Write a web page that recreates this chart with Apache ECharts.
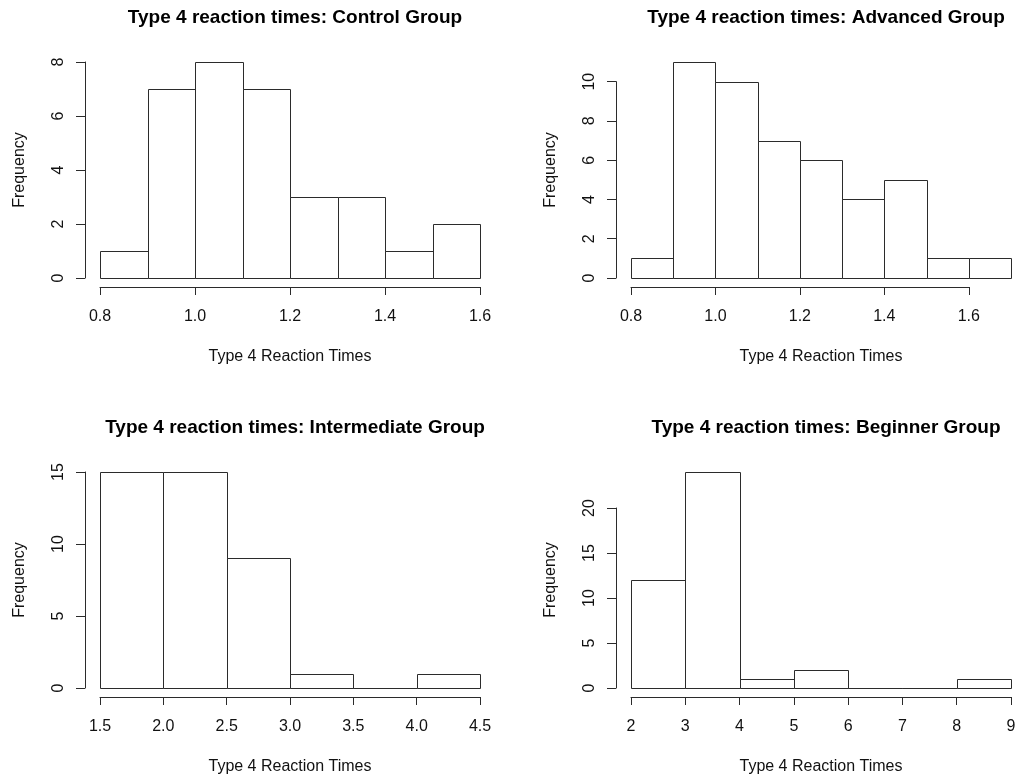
<!DOCTYPE html>
<html>
<head>
<meta charset="utf-8">
<title>Type 4 reaction times</title>
<script src="https://cdn.jsdelivr.net/npm/echarts@6/dist/echarts.min.js"></script>
<style>
html, body { margin: 0; padding: 0; background: #fff; }
#main { width: 1021px; height: 778px; }
</style>
</head>
<body>
<div id="main"></div>
<script>
//Control group
var controlBreaks = [0.8, 0.9, 1.0, 1.1, 1.2, 1.3, 1.4, 1.5, 1.6];
var controlCounts = [1, 7, 8, 7, 3, 3, 1, 2];
var controlXTicks = [0.8, 1.0, 1.2, 1.4, 1.6];
var controlYTicks = [0, 2, 4, 6, 8];

//Advanced group
var advancedBreaks = [0.8, 0.9, 1.0, 1.1, 1.2, 1.3, 1.4, 1.5, 1.6, 1.7];
var advancedCounts = [1, 11, 10, 7, 6, 4, 5, 1, 1];
var advancedXTicks = [0.8, 1.0, 1.2, 1.4, 1.6];
var advancedYTicks = [0, 2, 4, 6, 8, 10];

//Intermediate group
var intermediateBreaks = [1.5, 2.0, 2.5, 3.0, 3.5, 4.0, 4.5];
var intermediateCounts = [15, 15, 9, 1, 0, 1];
var intermediateXTicks = [1.5, 2.0, 2.5, 3.0, 3.5, 4.0, 4.5];
var intermediateYTicks = [0, 5, 10, 15];

//Beginner group
var beginnerBreaks = [2, 3, 4, 5, 6, 7, 8, 9];
var beginnerCounts = [12, 24, 1, 2, 0, 0, 1];
var beginnerXTicks = [2, 3, 4, 5, 6, 7, 8, 9];
var beginnerYTicks = [0, 5, 10, 15, 20];

var panelTitles = [
    'Type 4 reaction times: Control Group',
    'Type 4 reaction times: Advanced Group',
    'Type 4 reaction times: Intermediate Group',
    'Type 4 reaction times: Beginner Group'
];
var xName = 'Type 4 Reaction Times';
var yName = 'Frequency';

var FONT = '"Liberation Sans", Arial, sans-serif';
var INK = '#2b2b2b';
var TXT = '#111';

var HistChart;

$ready(function () {
    //初始化图表
    HistChart = echarts.init(document.getElementById('main'));
    HistChart.setOption(BuildOption());
});

function $ready(fn) {
    if (document.readyState !== 'loading') fn();
    else document.addEventListener('DOMContentLoaded', fn);
}

function round3(v) {
    return Math.round(v * 1000) / 1000;
}

//one rectangle per bin, from the value scales
function renderBin(params, api) {
    var p0 = api.coord([api.value(0), api.value(2)]);
    var p1 = api.coord([api.value(1), 0]);
    var x0 = Math.round(p0[0]), y0 = Math.round(p0[1]);
    var x1 = Math.round(p1[0]), y1 = Math.round(p1[1]);
    return {
        type: 'rect',
        shape: { x: x0 + 0.5, y: y0 + 0.5, width: x1 - x0, height: y1 - y0 },
        style: { fill: '#fff', stroke: INK, lineWidth: 1 }
    };
}

function BuildOption() {
    var panels = [
        { breaks: controlBreaks, counts: controlCounts, xt: controlXTicks, yt: controlYTicks, dec: 1, left: 100, top: 62 },
        { breaks: advancedBreaks, counts: advancedCounts, xt: advancedXTicks, yt: advancedYTicks, dec: 1, left: 631, top: 62 },
        { breaks: intermediateBreaks, counts: intermediateCounts, xt: intermediateXTicks, yt: intermediateYTicks, dec: 1, left: 100, top: 472 },
        { breaks: beginnerBreaks, counts: beginnerCounts, xt: beginnerXTicks, yt: beginnerYTicks, dec: 0, left: 631, top: 472 }
    ];
    var W = 380, H = 216;

    var option = {
        backgroundColor: '#fff',
        animation: false,
        title: [],
        grid: [],
        xAxis: [],
        yAxis: [],
        series: []
    };

    var hidden = { show: false };

    panels.forEach(function (p, i) {
        var xt = p.xt, yt = p.yt;
        var ext0 = Math.min(p.breaks[0], xt[0]);
        var ext1 = Math.max(p.breaks[p.breaks.length - 1], xt[xt.length - 1]);
        var ymax = Math.max(Math.max.apply(null, p.counts), yt[yt.length - 1]);
        var g = option.grid.length;

        //plot region (bars + axis titles)
        option.grid.push({ left: p.left, top: p.top, width: W, height: H, containLabel: false });
        option.xAxis.push({
            type: 'value', gridIndex: g, min: ext0, max: ext1,
            axisLine: hidden, axisTick: hidden, axisLabel: hidden, splitLine: hidden,
            name: xName, nameLocation: 'middle', nameGap: 71,
            nameTextStyle: { fontFamily: FONT, fontSize: 16, color: TXT }
        });
        option.yAxis.push({
            type: 'value', gridIndex: g, min: 0, max: ymax,
            axisLine: hidden, axisTick: hidden, axisLabel: hidden, splitLine: hidden,
            name: yName, nameLocation: 'middle', nameGap: 72, nameRotate: 90,
            nameTextStyle: { fontFamily: FONT, fontSize: 16, color: TXT }
        });

        //x axis drawn only over the tick range
        var x0 = xt[0], x1 = xt[xt.length - 1];
        option.grid.push({
            left: p.left + (x0 - ext0) / (ext1 - ext0) * W,
            width: (x1 - x0) / (ext1 - ext0) * W,
            top: p.top, height: H
        });
        option.xAxis.push({
            type: 'value', gridIndex: g + 1, min: x0, max: x1,
            interval: round3(xt[1] - xt[0]), offset: 9,
            axisLine: { show: true, onZero: false, lineStyle: { color: INK, width: 1 } },
            axisTick: { show: true, length: 8, lineStyle: { color: INK, width: 1 } },
            axisLabel: {
                margin: 22, fontFamily: FONT, fontSize: 16, color: TXT,
                showMinLabel: true, showMaxLabel: true, hideOverlap: false,
                formatter: function (v) { return Number(v).toFixed(p.dec); }
            },
            splitLine: hidden
        });
        option.yAxis.push({ type: 'value', gridIndex: g + 1, show: false, min: 0, max: ymax });

        //y axis drawn only over the tick range
        var yTop = yt[yt.length - 1];
        option.grid.push({
            left: p.left, width: W,
            top: p.top + (ymax - yTop) / ymax * H,
            height: yTop / ymax * H
        });
        option.xAxis.push({ type: 'value', gridIndex: g + 2, show: false, min: ext0, max: ext1 });
        option.yAxis.push({
            type: 'value', gridIndex: g + 2, min: 0, max: yTop,
            interval: yt[1] - yt[0], offset: 15,
            axisLine: { show: true, onZero: false, lineStyle: { color: INK, width: 1 } },
            axisTick: { show: true, length: 9, lineStyle: { color: INK, width: 1 } },
            axisLabel: {
                margin: 18, rotate: 90, fontFamily: FONT, fontSize: 16, color: TXT,
                showMinLabel: true, showMaxLabel: true, hideOverlap: false
            },
            splitLine: hidden
        });

        //histogram bins
        var data = [];
        for (var k = 0; k < p.counts.length; k++) {
            data.push([p.breaks[k], p.breaks[k + 1], p.counts[k]]);
        }
        option.series.push({
            type: 'custom',
            xAxisIndex: g, yAxisIndex: g,
            renderItem: renderBin,
            encode: { x: [0, 1], y: 2 },
            data: data,
            silent: true
        });

        option.title.push({
            text: panelTitles[i],
            left: p.left + W / 2,
            top: p.top - 59,
            textAlign: 'center',
            textStyle: { fontFamily: FONT, fontSize: 19, fontWeight: 'bold', color: '#000' }
        });
    });

    return option;
}
</script>
</body>
</html>
